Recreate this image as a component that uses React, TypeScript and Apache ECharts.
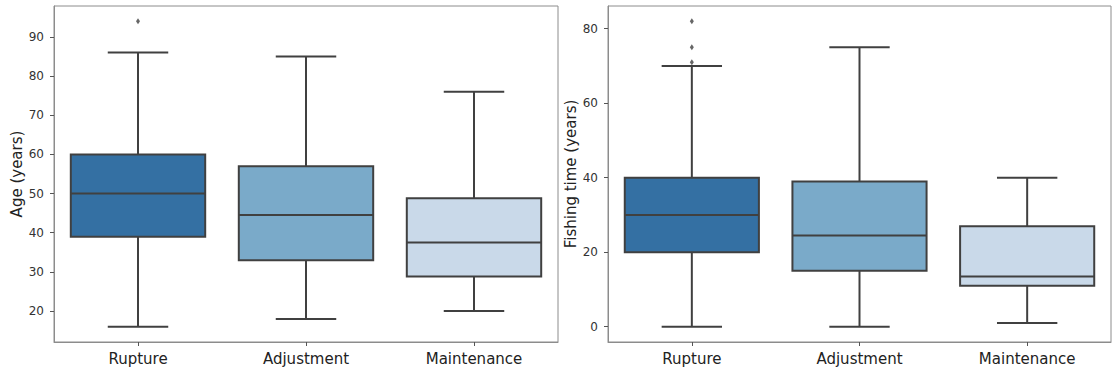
import React, { useEffect, useRef } from "react";
import * as echarts from "echarts";

const categories = ["Rupture", "Adjustment", "Maintenance"];
const boxColors = ["#3470a3", "#7aaac9", "#c9d9e9"];

// [min whisker, Q1, median, Q3, max whisker]
const ageStats = [
  [16, 39, 50, 60, 86],
  [18, 33, 44.5, 57, 85],
  [20, 28.8, 37.5, 48.8, 76],
];
const ageOutliers = [[0, 94]];
const ageTicks = [20, 30, 40, 50, 60, 70, 80, 90];

const fishStats = [
  [0, 20, 30, 40, 70],
  [0, 15, 24.5, 39, 75],
  [1, 11, 13.5, 27, 40],
];
const fishOutliers = [
  [0, 82],
  [0, 75],
  [0, 71],
];
const fishTicks = [0, 20, 40, 60, 80];

const EDGE = "#404040";
const FRAME = "#8c8c8c";

function boxRender(params: any, api: any) {
  const x = api.value(0);
  const lo = api.coord([x, api.value(1)]);
  const q1 = api.coord([x, api.value(2)]);
  const md = api.coord([x, api.value(3)]);
  const q3 = api.coord([x, api.value(4)]);
  const hi = api.coord([x, api.value(5)]);
  const band = api.size([1, 0])[0];
  const bw = band * 0.8;
  const cw = bw * 0.45;
  const cx = q1[0];
  const ls = { stroke: EDGE, lineWidth: 2 };
  return {
    type: "group",
    children: [
      { type: "line", shape: { x1: cx, y1: q1[1], x2: cx, y2: lo[1] }, style: ls },
      { type: "line", shape: { x1: cx, y1: q3[1], x2: cx, y2: hi[1] }, style: ls },
      { type: "line", shape: { x1: cx - cw / 2, y1: lo[1], x2: cx + cw / 2, y2: lo[1] }, style: ls },
      { type: "line", shape: { x1: cx - cw / 2, y1: hi[1], x2: cx + cw / 2, y2: hi[1] }, style: ls },
      {
        type: "rect",
        shape: { x: cx - bw / 2, y: q3[1], width: bw, height: q1[1] - q3[1] },
        style: { fill: boxColors[params.dataIndex], stroke: EDGE, lineWidth: 2 },
      },
      { type: "line", shape: { x1: cx - bw / 2, y1: md[1], x2: cx + bw / 2, y2: md[1] }, style: ls },
    ],
  };
}

function xAxis(gridIndex: number) {
  return {
    type: "category",
    gridIndex,
    data: categories,
    boundaryGap: true,
    axisLine: { show: true, onZero: false, lineStyle: { color: FRAME, width: 1 } },
    axisTick: { show: true, alignWithLabel: true, length: 4, lineStyle: { color: "#555" } },
    axisLabel: { fontSize: 15, color: "#222", margin: 9, fontFamily: "DejaVu Sans" },
    splitLine: { show: false },
  };
}

function yAxis(gridIndex: number, name: string, min: number, max: number, ticks: number[]) {
  return {
    type: "value",
    gridIndex,
    min,
    max,
    name,
    nameLocation: "middle",
    nameGap: 29,
    nameTextStyle: { fontSize: 15, color: "#222", fontFamily: "DejaVu Sans" },
    axisLine: { show: true, onZero: false, lineStyle: { color: FRAME, width: 1 } },
    axisTick: { show: true, length: 4, customValues: ticks, lineStyle: { color: "#555" } },
    axisLabel: { fontSize: 12, color: "#333", margin: 10, customValues: ticks, fontFamily: "DejaVu Sans" },
    splitLine: { show: false },
  };
}

export default function App() {
  const ref = useRef<HTMLDivElement>(null);
  useEffect(() => {
    if (!ref.current) return;
    const chart = echarts.init(ref.current, null, { renderer: "svg" });
    chart.setOption({
      animation: false,
      backgroundColor: "#ffffff",
      textStyle: { fontFamily: "DejaVu Sans" },
      grid: [
        { left: 54, top: 6, width: 504, height: 336, show: true, borderColor: FRAME, borderWidth: 1, backgroundColor: "transparent" },
        { left: 608, top: 6, width: 503, height: 336, show: true, borderColor: FRAME, borderWidth: 1, backgroundColor: "transparent" },
      ],
      xAxis: [xAxis(0), xAxis(1)],
      yAxis: [
        yAxis(0, "Age (years)", 12.1, 97.9, ageTicks),
        yAxis(1, "Fishing time (years)", -4.1, 86.1, fishTicks),
      ],
      series: [
        {
          type: "custom",
          xAxisIndex: 0,
          yAxisIndex: 0,
          renderItem: boxRender,
          encode: { x: 0, y: [1, 2, 3, 4, 5] },
          data: ageStats.map((s, i) => [i, ...s]),
        },
        {
          type: "custom",
          xAxisIndex: 1,
          yAxisIndex: 1,
          renderItem: boxRender,
          encode: { x: 0, y: [1, 2, 3, 4, 5] },
          data: fishStats.map((s, i) => [i, ...s]),
        },
        {
          type: "scatter",
          xAxisIndex: 0,
          yAxisIndex: 0,
          symbol: "diamond",
          symbolSize: [4, 6],
          itemStyle: { color: EDGE },
          data: ageOutliers,
          z: 5,
        },
        {
          type: "scatter",
          xAxisIndex: 1,
          yAxisIndex: 1,
          symbol: "diamond",
          symbolSize: [4, 6],
          itemStyle: { color: EDGE },
          data: fishOutliers,
          z: 5,
        },
      ],
    });
    return () => chart.dispose();
  }, []);
  return (
    <div
      ref={ref}
      style={{ position: "fixed", left: 0, top: 0, width: 1120, height: 375, background: "#fff" }}
    />
  );
}
